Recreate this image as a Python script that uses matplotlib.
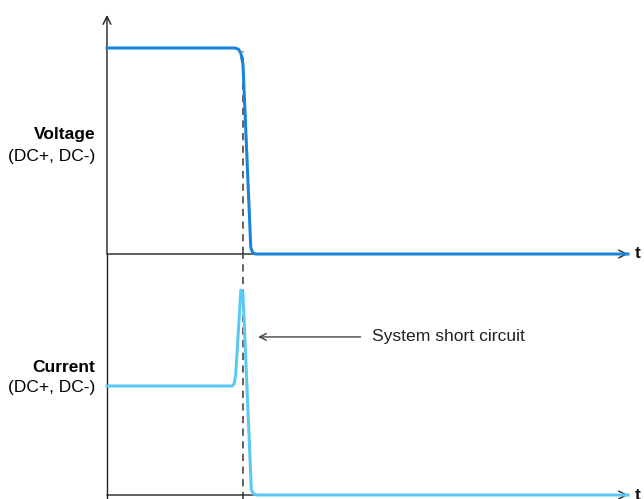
import matplotlib
matplotlib.use("Agg")
import matplotlib.pyplot as plt

plt.rcParams['font.family'] = ['Liberation Sans', 'DejaVu Sans']

# Time (arbitrary units) and normalised signals
t_voltage = [0.0, 2.44, 2.52, 2.57, 2.61, 2.76, 2.80, 2.86, 10.0]
voltage = [1.0, 1.0, 0.995, 0.975, 0.92, 0.03, 0.005, 0.0, 0.0]

t_current = [0.0, 2.40, 2.44, 2.47, 2.57, 2.61, 2.77, 2.81, 2.88, 10.0]
current = [1.0, 1.0, 1.02, 1.1, 1.88, 1.85, 0.05, 0.01, 0.0, 0.0]

t_fault = 2.61
labels = ["Voltage", "Current"]
sublabel = "(DC+, DC-)"
annotation = "System short circuit"

W, H = 644, 499
fig = plt.figure(figsize=(W / 100, H / 100), dpi=100)

x0, x1 = 107, 628
ax_v = fig.add_axes([x0 / W, (H - 254) / H, (x1 - x0) / W, (254 - 15) / H])
ax_i = fig.add_axes([x0 / W, (H - 495) / H, (x1 - x0) / W, (495 - 254) / H])

for ax in (ax_v, ax_i):
    ax.set_xlim(0, 10)
    for s in ax.spines.values():
        s.set_visible(False)
    ax.set_xticks([])
    ax.set_yticks([])
    ax.patch.set_alpha(0)

ax_v.set_ylim(0, 239 / 206)
ax_i.set_ylim(0, 241 / 109)

axis_col = "#222222"
# y-axis: continuous line through both axes with arrow at top
ax_v.annotate("", xy=(0, 1.0), xycoords="axes fraction", xytext=(0, 0),
              textcoords="axes fraction",
              arrowprops=dict(arrowstyle="->", color=axis_col, lw=1.0,
                              shrinkA=0, shrinkB=0, mutation_scale=14))
ax_i.plot([0, 0], [0, 1], transform=ax_i.transAxes, color=axis_col, lw=1.0,
          clip_on=False)
ax_i.plot([0, 0], [0, -4 / 241], transform=ax_i.transAxes, color=axis_col,
          lw=1.0, clip_on=False)

# x-axes with arrows and "t"
for ax in (ax_v, ax_i):
    ax.annotate("", xy=(1.0, 0), xycoords="axes fraction", xytext=(0, 0),
                textcoords="axes fraction",
                arrowprops=dict(arrowstyle="->", color=axis_col, lw=1.0,
                                shrinkA=0, shrinkB=0, mutation_scale=14))
    ax.text(1.0 + 7 / (x1 - x0), 0, "t", transform=ax.transAxes,
            fontsize=12.5, fontweight="bold", va="center", ha="left",
            color="#111111")

# Signals
ax_v.plot(t_voltage, voltage, color="#1c84d8", lw=2.2, clip_on=False,
          solid_joinstyle="round", zorder=3)
ax_i.plot(t_current, current, color="#5cc8f6", lw=2.2, clip_on=False,
          solid_joinstyle="round", zorder=3)

# Dashed fault marker
ax_v.plot([t_fault, t_fault], [0, 0.985], color="#555555", lw=1.3,
          ls=(0, (4, 3)), zorder=2)
ax_i.plot([t_fault, t_fault], [-4 / 109, 241 / 109], color="#555555", lw=1.3,
          ls=(0, (4, 3)), zorder=2, clip_on=False)

# Annotation
ax_i.annotate(annotation, xy=(2.90, 1.45), xytext=(5.08, 1.45),
              fontsize=12.6, va="center", ha="left", color="#222222",
              arrowprops=dict(arrowstyle="->", color="#444444", lw=1.0,
                              shrinkA=6, shrinkB=0, mutation_scale=12))

# Row labels
for ax, lab, ytop, ysub in ((ax_v, labels[0], 0.498, 0.406),
                            (ax_i, labels[1], 0.531, 0.448)):
    ax.text(-12 / (x1 - x0), ytop, lab, transform=ax.transAxes,
            fontsize=12.5, fontweight="bold", ha="right", va="center")
    ax.text(-12 / (x1 - x0), ysub, sublabel, transform=ax.transAxes,
            fontsize=12.5, ha="right", va="center")

fig.savefig("out.png", dpi=100)
